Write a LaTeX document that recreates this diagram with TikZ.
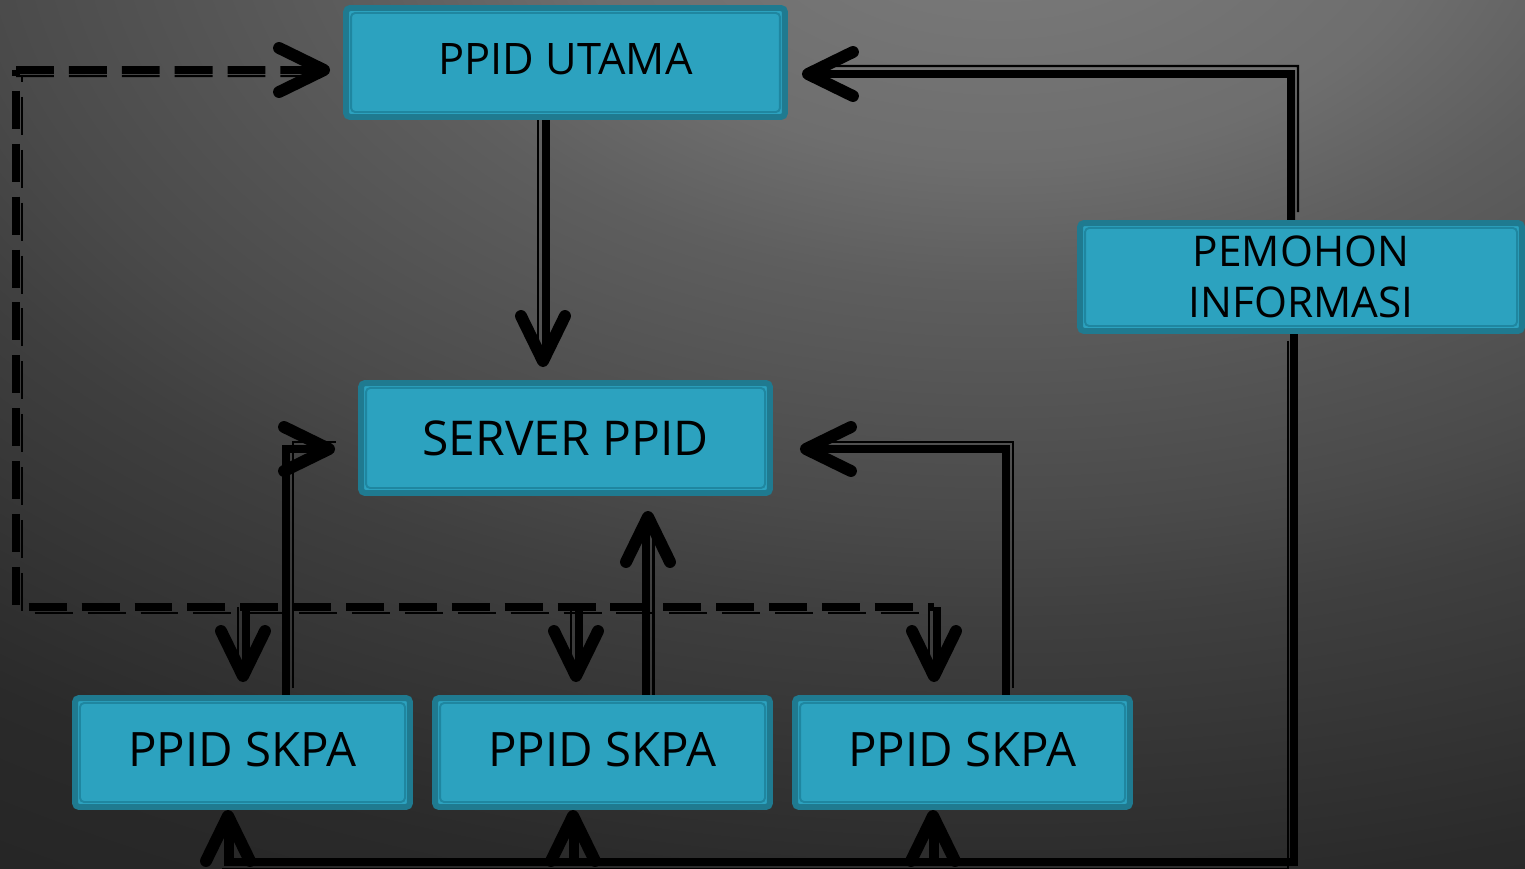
\documentclass[tikz,border=0pt]{standalone}
\usepackage{fontspec}
\setmainfont{Open Sans}
\usetikzlibrary{calc}
\definecolor{tfill}{HTML}{2CA2BF}
\definecolor{tdark}{HTML}{1F7A90}
\definecolor{tline}{HTML}{1F86A0}
\definecolor{bgA}{HTML}{7C7C7C}
\definecolor{bgB}{HTML}{6E6E6E}
\definecolor{bgC}{HTML}{5E5E5E}
\definecolor{bgD}{HTML}{4A4A4A}
\definecolor{bgE}{HTML}{3F3F3F}
\definecolor{bgF}{HTML}{2A2A2A}
\definecolor{bgG}{HTML}{242424}
\pgfdeclareradialshading{bgshade}{\pgfpoint{0bp}{0bp}}{color(0bp)=(bgA); color(5.4bp)=(bgB); color(8bp)=(bgC); color(12.85bp)=(bgD); color(15bp)=(bgE); color(20.75bp)=(bgF); color(25bp)=(bgG); color(50bp)=(bgG)}
\pgfdeclarelayer{bgl}
\pgfdeclarelayer{lines}
\pgfsetlayers{bgl,lines,main}
\begin{document}
\begin{tikzpicture}[x=0.02cm,y=-0.02cm,
  box/.style={draw=tdark, line width=3.4pt, fill=tfill, rounded corners=2.3pt, inner sep=0pt, align=center,
    path picture={\draw[tline, line width=1.1pt] ([shift={(0.1cm,0.1cm)}]path picture bounding box.south west) rectangle ([shift={(-0.1cm,-0.1cm)}]path picture bounding box.north east);}},
  skpa/.style={box, minimum width=6.7cm, minimum height=2.18cm, font=\fontsize{27pt}{32pt}\selectfont, text depth=4pt},
  thk/.style={line width=4.55pt, black},
  thn/.style={line width=1.2pt, black},
  dashstyle/.style={dash pattern=on 21.6pt off 8.5pt},
  chev/.pic={\draw[black, line width=6.8pt, line cap=round, line join=round] (-45,-22) -- (0,0) -- (-45,22);}
]
\useasboundingbox (0,0) rectangle (1525,869);
\begin{pgfonlayer}{bgl}
  \begin{scope}
    \clip (0,0) rectangle (1525,869);
    \shade[shading=bgshade] (1000,-100) ellipse [x radius=40cm, y radius=24cm];
  \end{scope}
\end{pgfonlayer}

% boxes
\node[box, minimum width=8.78cm, minimum height=2.18cm, font=\fontsize{24.7pt}{30pt}\selectfont, text depth=4.5pt] (utama) at (565.5,62.5) {PPID UTAMA};
\node[box, minimum width=8.18cm, minimum height=2.2cm, font=\fontsize{27.3pt}{32pt}\selectfont] (server) at (565.5,438) {SERVER PPID};
\node[box, minimum width=8.84cm, minimum height=2.16cm, font=\fontsize{24.1pt}{29pt}\selectfont] (pemohon) at (1301,277) {PEMOHON\\INFORMASI};
\node[skpa] (s1) at (242.5,752.5) {PPID SKPA};
\node[skpa] (s2) at (602.5,752.5) {PPID SKPA};
\node[skpa] (s3) at (962.5,752.5) {PPID SKPA};

% arrow tips
\coordinate (tUL) at ($(utama.west)+(-19,7.5)$);
\coordinate (tUR) at ($(utama.east)+(20,11.5)$);
\coordinate (tST) at ($(server.north)+(-22.5,-19)$);
\coordinate (tSL) at ($(server.west)+(-29,11)$);
\coordinate (tSR) at ($(server.east)+(33,11)$);
\coordinate (tSB) at ($(server.south)+(82.5,21)$);
\coordinate (tK1) at ($(s1.north)+(0.5,-19)$);
\coordinate (tK2) at ($(s2.north)+(-26.5,-19)$);
\coordinate (tK3) at ($(s3.north)+(-28.5,-19)$);
\coordinate (tB1) at ($(s1.south)+(-14.5,6)$);
\coordinate (tB2) at ($(s2.south)+(-29.5,6)$);
\coordinate (tB3) at ($(s3.south)+(-29.5,6)$);
% corners
\coordinate (cA) at (1291,74);
\coordinate (cB) at (1294,862);
\coordinate (cD) at (286,449);
\coordinate (cF) at (1006,449);
\coordinate (cG1) at (16,70);
\coordinate (cG2) at (16,607);

\begin{pgfonlayer}{lines}
  % A: PEMOHON -> UTAMA
  \draw[thk] (pemohon.north -| cA) -- (cA) -- (tUR);
  \draw[thn, transform canvas={shift={(0.14cm,0.16cm)}}] (pemohon.north -| cA) -- (cA) -- (tUR);
  % B: PEMOHON -> SKPAs (bottom)
  \draw[thk] (pemohon.south -| cB) -- (cB) -- (cB -| tB1) -- (tB1);
  \draw[thk] (cB -| tB2) -- (tB2);
  \draw[thk] (cB -| tB3) -- (tB3);
  \draw[thn, transform canvas={shift={(-0.12cm,-0.14cm)}}] (pemohon.south -| cB) -- (cB) -- (cB -| tB1);
  \draw[thn, transform canvas={shift={(0.1cm,0cm)}}] (cB -| tB1) -- (tB1);
  \draw[thn, transform canvas={shift={(0.1cm,0cm)}}] (cB -| tB2) -- (tB2);
  \draw[thn, transform canvas={shift={(0.1cm,0cm)}}] (cB -| tB3) -- (tB3);
  % C: UTAMA -> SERVER
  \draw[thk] ($(utama.south -| tST)+(3,0)$) -- ($(tST)+(3,0)$);
  \draw[thn] ($(utama.south -| tST)+(-5,0)$) -- ($(tST)+(-5,-8)$);
  % D: SKPA1 -> SERVER left
  \draw[thk] (s1.north -| cD) -- (cD) -- (tSL);
  \draw[thn, transform canvas={shift={(0.14cm,0.14cm)}}] (s1.north -| cD) -- (cD) -- (tSL);
  % E: SKPA2 -> SERVER bottom
  \draw[thk] ($(s2.north -| tSB)+(-2,0)$) -- ($(tSB)+(-2,0)$);
  \draw[thn] ($(s2.north -| tSB)+(5.5,0)$) -- ($(tSB)+(5.5,8)$);
  % F: SKPA3 -> SERVER right
  \draw[thk] (s3.north -| cF) -- (cF) -- (tSR);
  \draw[thn, transform canvas={shift={(0.14cm,0.14cm)}}] (s3.north -| cF) -- (cF) -- (tSR);
  % G: dashed loop
  \draw[thk, dashstyle] (cG1) -- (tUL);
  \draw[thn, dashstyle, transform canvas={shift={(0cm,-0.12cm)}}] (cG1) -- (tUL);
  \draw[thk, dashstyle, dash phase=18.2pt] (cG1) -- (cG2) -- (cG2 -| tK3);
  \draw[thn, dashstyle, dash phase=18.2pt, transform canvas={shift={(0.12cm,-0.12cm)}}] (cG1) -- (cG2) -- (cG2 -| tK3);
  \draw[thk] ($(cG2 -| tK1)+(3,0)$) -- ($(tK1)+(3,0)$);
  \draw[thk] ($(cG2 -| tK2)+(3,0)$) -- ($(tK2)+(3,0)$);
  \draw[thk] ($(cG2 -| tK3)+(3,0)$) -- ($(tK3)+(3,0)$);
  \draw[thn] ($(cG2 -| tK1)+(-5,0)$) -- ($(tK1)+(-5,-8)$);
  \draw[thn] ($(cG2 -| tK2)+(-5,0)$) -- ($(tK2)+(-5,-8)$);
  \draw[thn] ($(cG2 -| tK3)+(-5,0)$) -- ($(tK3)+(-5,-8)$);
  % arrowheads
  \pic at (tUL) {chev};
  \pic[rotate=180] at (tUR) {chev};
  \pic[rotate=-90] at (tST) {chev};
  \pic at (tSL) {chev};
  \pic[rotate=180] at (tSR) {chev};
  \pic[rotate=90] at (tSB) {chev};
  \pic[rotate=-90] at (tK1) {chev};
  \pic[rotate=-90] at (tK2) {chev};
  \pic[rotate=-90] at (tK3) {chev};
  \pic[rotate=90] at (tB1) {chev};
  \pic[rotate=90] at (tB2) {chev};
  \pic[rotate=90] at (tB3) {chev};
\end{pgfonlayer}
\end{tikzpicture}
\end{document}
